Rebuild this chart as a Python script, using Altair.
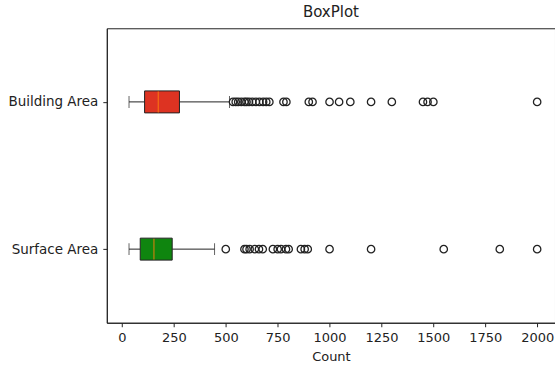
import altair as alt
import pandas as pd

categories = ["Building Area", "Surface Area"]
q1 = [109, 88]
median = [175, 154]
q3 = [277, 242]
whisker_low = [34, 34]
whisker_high = [518, 446]
box_colors = ["#dd3322", "#0f850f"]

building_outliers = [535, 548, 560, 575, 590, 600, 612, 628, 645, 662, 680, 695, 710,
                     778, 792, 900, 918, 1000, 1046, 1100, 1200, 1300, 1450, 1472, 1500, 2000]
surface_outliers = [500, 590, 600, 615, 640, 660, 678, 727, 750, 766, 790, 803,
                    862, 880, 895, 1000, 1200, 1550, 1820, 2000]

stats = pd.DataFrame({
    "cat": categories, "q1": q1, "median": median, "q3": q3,
    "lo": whisker_low, "hi": whisker_high, "color": box_colors,
})
out = pd.DataFrame({
    "cat": ["Building Area"] * len(building_outliers) + ["Surface Area"] * len(surface_outliers),
    "v": building_outliers + surface_outliers,
})

FONT = "DejaVu Sans"
xscale = alt.Scale(domain=[-73, 2086], nice=False, zero=False)
yscale = alt.Scale(type="point", padding=0.5, domain=categories)

xaxis = alt.Axis(values=list(range(0, 2001, 250)), format="d", title="Count", grid=False,
                 labelFontSize=13, titleFontSize=13, labelFont=FONT, titleFont=FONT,
                 labelColor="#222", titleColor="#222", titleFontWeight="normal",
                 domainColor="#222", tickColor="#222", tickSize=4, labelPadding=5,
                 titlePadding=6, labelFlush=False)
yaxis = alt.Axis(title=None, grid=False, labelFontSize=13.5, labelFont=FONT,
                 labelColor="#222", domainColor="#222", tickColor="#222",
                 tickSize=4, labelPadding=5)

base = alt.Chart(stats)
y = alt.Y("cat:N", scale=yscale, axis=yaxis, sort=categories)

whisk_lo = base.mark_rule(color="#222", strokeWidth=1).encode(
    x=alt.X("lo:Q", scale=xscale, axis=xaxis), x2="q1:Q", y=y)
whisk_hi = base.mark_rule(color="#222", strokeWidth=1).encode(
    x=alt.X("q3:Q", scale=xscale), x2="hi:Q", y=y)
cap_lo = base.mark_tick(color="#222", size=12, thickness=1, orient="vertical").encode(
    x=alt.X("lo:Q", scale=xscale), y=y)
cap_hi = base.mark_tick(color="#222", size=12, thickness=1, orient="vertical").encode(
    x=alt.X("hi:Q", scale=xscale), y=y)
box = base.mark_bar(size=22, stroke="#222", strokeWidth=1).encode(
    x=alt.X("q1:Q", scale=xscale), x2="q3:Q", y=y,
    color=alt.Color("color:N", scale=None))
med = base.mark_tick(color="#ff7f0e", size=21, thickness=1.3, orient="vertical").encode(
    x=alt.X("median:Q", scale=xscale), y=y)
pts = alt.Chart(out).mark_point(shape="circle", filled=False, color="#222",
                                strokeWidth=1.3, size=55, opacity=1).encode(
    x=alt.X("v:Q", scale=xscale), y=alt.Y("cat:N", scale=yscale, sort=categories))

chart = alt.layer(whisk_lo, whisk_hi, cap_lo, cap_hi, box, med, pts).properties(
    width=449, height=295,
    title=alt.TitleParams("BoxPlot", fontSize=15, font=FONT, fontWeight="normal",
                          color="#222", offset=8, anchor="middle"),
    autosize=alt.AutoSizeParams(type="none"),
    padding={"left": 107, "top": 28, "right": 0, "bottom": 44},
    background="white",
).configure_view(stroke="#222", strokeWidth=1)

chart.save("out.html", embed_options={"renderer": "svg", "actions": False})
